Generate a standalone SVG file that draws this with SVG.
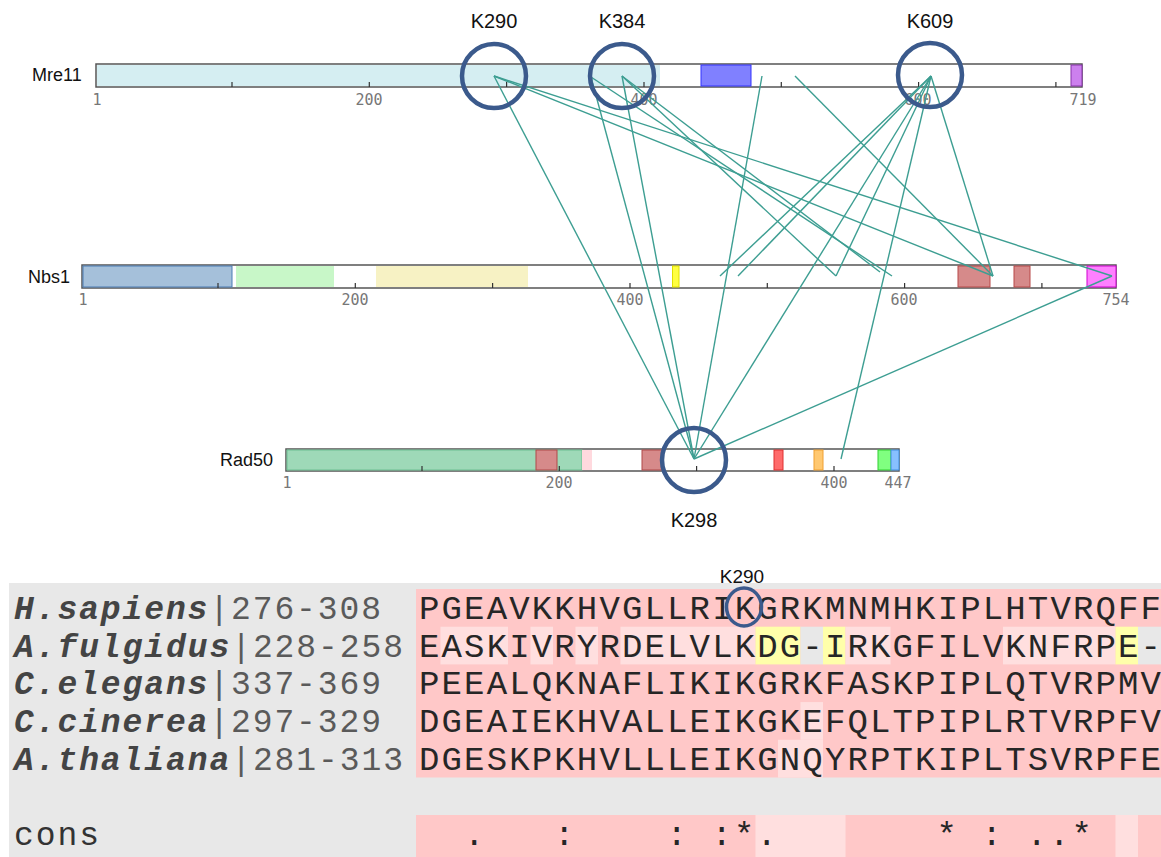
<svg xmlns="http://www.w3.org/2000/svg" width="1161" height="857" viewBox="0 0 1161 857">
<style>
.bar{fill:#ffffff;stroke:#555555;stroke-width:1.5}
.tick{stroke:#333333;stroke-width:1.2}
.tl{font-family:"DejaVu Sans Mono",monospace;font-size:15px;fill:#777777;text-anchor:middle}
.pname{font-family:"Liberation Sans",Arial,sans-serif;font-size:18px;fill:#111111}
.klab{font-family:"Liberation Sans",Arial,sans-serif;font-size:20px;fill:#111111;text-anchor:middle}
.ring{fill:none;stroke:#3b5a8c;stroke-width:4.5}
.link{stroke:#3d9e92;stroke-width:1.4;fill:none}
.seq{font-family:"Liberation Mono","Courier New",monospace;font-size:34px;fill:#262626}
.cs{font-family:"Liberation Mono","Courier New",monospace;font-size:34px;fill:#262626;text-anchor:middle}
.lab{font-family:"Liberation Mono","Courier New",monospace;font-size:33px;fill:#5a5a5a}
.sp{font-weight:bold;font-style:italic;fill:#444444}
.pk{fill:#ffc8c8}
.lt{fill:#ffdfdf}
.yl{fill:#ffffaa}
.gy{fill:#e8e8e8}
</style>
<rect x="0" y="0" width="1161" height="857" fill="#ffffff"/>

<g id="mre11">
<text class="pname" x="32" y="81">Mre11</text>
<rect class="bar" x="96" y="64" width="986" height="23"/>
<rect x="97" y="65" width="563" height="21" fill="#d5eef2"/>
<rect x="701" y="65" width="50" height="21" fill="#8080ff" stroke="#3333ff" stroke-width="1"/>
<rect x="1071" y="65" width="11" height="21" fill="#cc80ee" stroke="#8833aa" stroke-width="1"/>
<path class="tick" d="M232 82V87M369.3 82V87M506.6 82V87M644 82V87M781.3 82V87M918.6 82V87M1055.9 82V87"/>
<text class="tl" x="97" y="105">1</text>
<text class="tl" x="369" y="105">200</text>
<text class="tl" x="644" y="105">400</text>
<text class="tl" x="918" y="105">600</text>
<text class="tl" x="1083" y="105">719</text>
</g>

<g id="nbs1">
<text class="pname" x="28" y="283">Nbs1</text>
<rect class="bar" x="82" y="265" width="1034" height="23"/>
<rect x="83" y="266" width="149" height="21" fill="#a5c0da" stroke="#4a7db5" stroke-width="1"/>
<rect x="236" y="266" width="98" height="21" fill="#c8f7c8"/>
<rect x="376" y="266" width="152" height="21" fill="#f7f2c4"/>
<rect x="672.5" y="266" width="6.5" height="21" fill="#ffff40" stroke="#e0e000" stroke-width="1"/>
<rect x="958" y="266" width="32" height="21" fill="#d68a8a" stroke="#b84848" stroke-width="1"/>
<rect x="1014" y="266" width="16" height="21" fill="#d68a8a" stroke="#b84848" stroke-width="1"/>
<rect x="1087" y="266" width="29" height="21" fill="#ff80ff" stroke="#d000d0" stroke-width="1"/>
<path class="tick" d="M218 283V288M355.3 283V288M492.6 283V288M630 283V288M767.3 283V288M904.6 283V288M1041.9 283V288"/>
<text class="tl" x="83" y="305">1</text>
<text class="tl" x="355" y="305">200</text>
<text class="tl" x="630" y="305">400</text>
<text class="tl" x="904" y="305">600</text>
<text class="tl" x="1116" y="305">754</text>
</g>

<g id="rad50">
<text class="pname" x="220" y="466">Rad50</text>
<rect class="bar" x="286" y="449" width="613" height="22"/>
<rect x="287" y="450" width="295" height="20" fill="#9ed9b8" stroke="#6cbf92" stroke-width="1"/>
<rect x="536" y="450" width="21" height="20" fill="#d68a8a" stroke="#b04848" stroke-width="1"/>
<rect x="582" y="450" width="10" height="20" fill="#ffd9de"/>
<rect x="642" y="450" width="21" height="20" fill="#d68a8a" stroke="#b04848" stroke-width="1"/>
<rect x="774" y="450" width="9" height="20" fill="#ff6b6b" stroke="#e03030" stroke-width="1"/>
<rect x="814" y="450" width="9" height="20" fill="#ffc870" stroke="#f0a030" stroke-width="1"/>
<rect x="878" y="450" width="13" height="20" fill="#80ff80" stroke="#30d030" stroke-width="1"/>
<rect x="891" y="450" width="8" height="20" fill="#88c0ff" stroke="#4090e0" stroke-width="1"/>
<path class="tick" d="M422 466V471M559.3 466V471M696.6 466V471M834 466V471"/>
<text class="tl" x="287" y="488">1</text>
<text class="tl" x="559" y="488">200</text>
<text class="tl" x="834" y="488">400</text>
<text class="tl" x="898" y="488">447</text>
</g>

<g id="connectors">
<line class="link" x1="494" y1="76" x2="694" y2="459"/>
<line class="link" x1="494" y1="76" x2="993" y2="276"/>
<line class="link" x1="494" y1="76" x2="1112" y2="276"/>
<line class="link" x1="591" y1="77" x2="694" y2="459"/>
<line class="link" x1="591" y1="77" x2="892" y2="276"/>
<line class="link" x1="622" y1="76" x2="694" y2="459"/>
<line class="link" x1="622" y1="76" x2="836" y2="276"/>
<line class="link" x1="622" y1="76" x2="880" y2="272"/>
<line class="link" x1="762" y1="76" x2="694" y2="459"/>
<line class="link" x1="795" y1="76" x2="993" y2="276"/>
<line class="link" x1="931" y1="76" x2="694" y2="459"/>
<line class="link" x1="931" y1="76" x2="841" y2="459"/>
<line class="link" x1="931" y1="76" x2="720" y2="276"/>
<line class="link" x1="931" y1="76" x2="738" y2="276"/>
<line class="link" x1="931" y1="76" x2="836" y2="276"/>
<line class="link" x1="931" y1="76" x2="993" y2="276"/>
<line class="link" x1="1112" y1="276" x2="694" y2="459"/>
</g>

<g id="sites">
<circle class="ring" cx="494" cy="76" r="32"/>
<circle class="ring" cx="622" cy="76" r="32"/>
<circle class="ring" cx="930" cy="75" r="32"/>
<circle class="ring" cx="694" cy="460" r="32"/>
<text class="klab" x="494" y="28">K290</text>
<text class="klab" x="622" y="28">K384</text>
<text class="klab" x="930" y="28">K609</text>
<text class="klab" x="694" y="527">K298</text>
</g>

<g id="alignment">
<rect class="gy" x="9" y="583" width="1152" height="274"/>
<rect class="pk" x="416" y="589" width="745" height="188.5"/>
<rect class="lt" x="440.5" y="626.7" width="67.5" height="37.7"/>
<rect class="lt" x="530.5" y="626.7" width="22.5" height="37.7"/>
<rect class="lt" x="575.5" y="626.7" width="22.5" height="37.7"/>
<rect class="lt" x="620.5" y="626.7" width="135" height="37.7"/>
<rect class="yl" x="755.5" y="626.7" width="45" height="37.7"/>
<rect class="gy" x="800.5" y="626.7" width="22.5" height="37.7"/>
<rect class="yl" x="823" y="626.7" width="22.5" height="37.7"/>
<rect class="lt" x="845.5" y="626.7" width="45" height="37.7"/>
<rect class="lt" x="1003" y="626.7" width="112.5" height="37.7"/>
<rect class="yl" x="1115.5" y="626.7" width="22.5" height="37.7"/>
<rect class="gy" x="1138" y="626.7" width="23" height="37.7"/>
<rect class="lt" x="800.5" y="702.1" width="22.5" height="37.7"/>
<rect class="lt" x="778" y="739.8" width="45" height="37.7"/>
<rect class="pk" x="416" y="815" width="745" height="42"/>
<rect class="lt" x="755.5" y="815" width="90" height="42"/>
<rect class="lt" x="1115.5" y="815" width="22.5" height="42"/>

<text class="lab" x="14" y="619" textLength="367" lengthAdjust="spacing"><tspan class="sp">H.sapiens</tspan>|276-308</text>
<text class="lab" x="14" y="657" textLength="389" lengthAdjust="spacing"><tspan class="sp">A.fulgidus</tspan>|228-258</text>
<text class="lab" x="14" y="694" textLength="367" lengthAdjust="spacing"><tspan class="sp">C.elegans</tspan>|337-369</text>
<text class="lab" x="14" y="732" textLength="367" lengthAdjust="spacing"><tspan class="sp">C.cinerea</tspan>|297-329</text>
<text class="lab" x="14" y="770" textLength="389" lengthAdjust="spacing"><tspan class="sp">A.thaliana</tspan>|281-313</text>
<text class="lab" x="14" y="845" textLength="85" lengthAdjust="spacing" style="fill:#333333">cons</text>

<text class="seq" x="419" y="619" textLength="742" lengthAdjust="spacing">PGEAVKKHVGLLRIKGRKMNMHKIPLHTVRQFF</text>
<text class="seq" x="419" y="657" textLength="742" lengthAdjust="spacing">EASKIVRYRDELVLKDG-IRKGFILVKNFRPE-</text>
<text class="seq" x="419" y="694" textLength="742" lengthAdjust="spacing">PEEALQKNAFLIKIKGRKFASKPIPLQTVRPMV</text>
<text class="seq" x="419" y="732" textLength="742" lengthAdjust="spacing">DGEAIEKHVALLEIKGKEFQLTPIPLRTVRPFV</text>
<text class="seq" x="419" y="770" textLength="742" lengthAdjust="spacing">DGESKPKHVLLLEIKGNQYRPTKIPLTSVRPFE</text>
<text class="cs" x="474.25 564.25 676.75 721.75 744.25 766.75 946.75 991.75 1036.75 1059.25 1081.75" y="845">.:::*.*:..*</text>

<text class="klab" x="742" y="583" style="font-size:19px">K290</text>
<ellipse class="ring" cx="744" cy="607" rx="17.5" ry="19" style="stroke-width:3.5"/>
</g>
</svg>
